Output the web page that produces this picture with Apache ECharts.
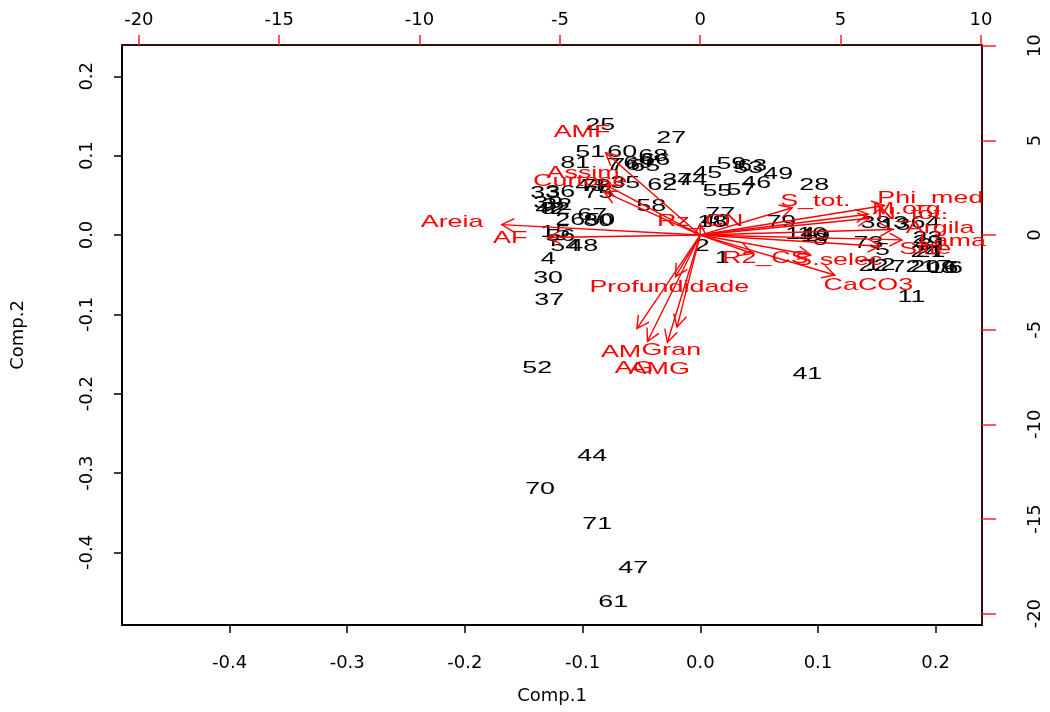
<!DOCTYPE html>
<html>
<head>
<meta charset="utf-8">
<script src="https://cdn.jsdelivr.net/npm/echarts@6/dist/echarts.min.js"></script>
<style>
html,body{margin:0;padding:0;background:#fff;}
#chart{width:1050px;height:712px;}
</style>
</head>
<body>
<div id="chart"></div>
<script>
// ---- Observation scores (Comp.1, Comp.2) ----
var obsLabels = ['1','2','3','4','5','6','7','8','9','10','11','12','13','14','15','16','17','18','19','20',
  '21','22','23','24','25','26','27','28','29','30','31','32','33','34','35','36','37','38','39','40',
  '41','42','43','44','45','46','47','48','49','50','51','52','53','54','55','56','57','58','59','60',
  '61','62','63','64','65','66','67','68','69','70','71','72','73','74','75','76','77','78','79','80','81','82'];
var obsX = [0.0187,0.0017,0.1701,-0.1293,0.1548,0.2168,-0.0740,0.1020,0.2109,0.0952,
  0.1794,0.1531,0.1658,0.0850,-0.1233,0.2066,0.2007,0.0102,0.0978,0.1913,
  0.1956,0.1471,0.1930,0.1913,-0.0850,-0.1105,-0.0247,0.0969,0.1930,-0.1293,
  0.1973,-0.1216,-0.1318,-0.0196,-0.0638,-0.1190,-0.1284,0.1488,-0.1293,0.0128,
  0.0910,-0.1276,-0.0935,-0.0918,0.0060,0.0476,-0.0570,-0.0995,0.0663,-0.0850,
  -0.0935,-0.1386,0.0408,-0.1148,0.0145,-0.1190,0.0349,-0.0417,0.0264,-0.0663,
  -0.0740,-0.0323,0.0442,0.1913,-0.0468,-0.0383,-0.0918,-0.0400,-0.0527,-0.1361,
  -0.0876,0.1743,0.1429,-0.0068,-0.0867,-0.0638,0.0170,-0.0884,0.0689,-0.0867,-0.1063,-0.1233];
var obsY = [-0.0293,-0.0141,0.0149,-0.0305,-0.0192,-0.0419,0.0880,-0.0066,-0.0419,0.0010,
  -0.0784,-0.0381,0.0124,0.0010,0.0035,-0.0419,-0.0406,0.0161,-0.0015,-0.0406,
  -0.0217,-0.0393,-0.0040,-0.0217,0.1385,0.0187,0.1221,0.0628,-0.0091,-0.0545,
  -0.0129,0.0376,0.0527,0.0691,0.0653,0.0540,-0.0822,0.0149,0.0401,0.0174,
  -0.1755,0.0325,0.0615,-0.2789,0.0779,0.0653,-0.4202,-0.0141,0.0766,0.0187,
  0.1044,-0.1680,0.0842,-0.0141,0.0552,-0.0015,0.0565,0.0363,0.0893,0.1044,
  -0.4632,0.0628,0.0868,0.0149,0.0868,0.0943,0.0250,0.0994,0.0905,-0.3206,
  -0.3647,-0.0406,-0.0103,0.0691,0.0527,0.0880,0.0262,0.0615,0.0161,0.0174,0.0905,0.0325];

// ---- Variable loadings (label positions, secondary axes) ----
var varNames = ['Areia','AF','AMF','Assim','Curtose','Rz_CN','S_tot.','Phi_med','M.org.','N_tot.',
  'Argila','Lama','Silte','CaCO3','S.selec','R2_CS','Profundidade','AM','Gran','AG','AMG'];
var varX = [-8.84,-6.77,-4.21,-4.17,-4.28,0.00,4.10,8.20,7.48,7.56,
  8.55,8.98,8.02,5.99,4.92,2.32,-1.10,-2.82,-1.03,-2.35,-1.46];
var varY = [0.69,-0.16,5.44,3.28,2.85,0.74,1.80,1.95,1.37,1.11,
  0.37,-0.32,-0.74,-2.64,-1.32,-1.22,-2.75,-6.18,-6.08,-7.03,-7.08];

// ---- Tick values ----
var primaryTicks = [-0.4,-0.3,-0.2,-0.1,0.0,0.1,0.2];
var secondaryTicks = [-20,-15,-10,-5,0,5,10];

var SX = 1.58;      // horizontal text stretch seen in the reference
var TXT_FONT = 'Liberation Sans, Arial, sans-serif';
var AX_FONT = 'DejaVu Sans, sans-serif';

var chart = echarts.init(document.getElementById('chart'), null, {renderer:'canvas'});

var fmt1 = function(v){ return (Math.abs(v) < 1e-9 ? 0 : v).toFixed(1); };

var option = {
  backgroundColor:'#ffffff',
  animation:false,
  grid:{left:122, right:68, top:45, bottom:87, containLabel:false},
  xAxis:[
    {type:'value', position:'bottom', min:-0.4914, max:0.2394,
      name:'Comp.1', nameLocation:'middle', nameGap:62,
      nameTextStyle:{fontFamily:AX_FONT, fontSize:18, color:'#000'},
      axisLine:{show:true, onZero:false, lineStyle:{color:'#000', width:2}},
      axisTick:{show:true, customValues:primaryTicks, length:8, lineStyle:{color:'#000', width:1.5}},
      axisLabel:{show:true, customValues:primaryTicks, formatter:fmt1, margin:29,
        fontFamily:AX_FONT, fontSize:18, color:'#000'},
      splitLine:{show:false}},
    {type:'value', position:'top', min:-20.6, max:10.04,
      axisLine:{show:true, onZero:false, lineStyle:{color:'#3f0a0a', width:2}},
      axisTick:{show:true, customValues:secondaryTicks, length:10, lineStyle:{color:'#ff2020', width:1.5}},
      axisLabel:{show:true, customValues:secondaryTicks, margin:16,
        fontFamily:AX_FONT, fontSize:18, color:'#000'},
      splitLine:{show:false}}
  ],
  yAxis:[
    {type:'value', position:'left', min:-0.4914, max:0.2394,
      name:'Comp.2', nameLocation:'middle', nameGap:95, nameRotate:90,
      nameTextStyle:{fontFamily:AX_FONT, fontSize:18, color:'#000'},
      axisLine:{show:true, onZero:false, lineStyle:{color:'#000', width:2}},
      axisTick:{show:true, customValues:primaryTicks, length:8, lineStyle:{color:'#000', width:1.5}},
      axisLabel:{show:true, customValues:primaryTicks, formatter:fmt1, margin:26, rotate:90,
        fontFamily:AX_FONT, fontSize:18, color:'#000'},
      splitLine:{show:false}},
    {type:'value', position:'right', min:-20.6, max:10.04,
      axisLine:{show:true, onZero:false, lineStyle:{color:'#3f0a0a', width:2}},
      axisTick:{show:true, customValues:secondaryTicks, length:14, lineStyle:{color:'#ff2020', width:1.5}},
      axisLabel:{show:true, customValues:secondaryTicks, margin:44, rotate:90,
        fontFamily:AX_FONT, fontSize:18, color:'#000'},
      splitLine:{show:false}}
  ],
  series:[
    {
      type:'custom', name:'obs', xAxisIndex:0, yAxisIndex:0, silent:true,
      data: obsX.map(function(x,i){ return [x, obsY[i]]; }),
      renderItem:function(params, api){
        var p = api.coord([api.value(0), api.value(1)]);
        return {type:'text', x:p[0], y:p[1], scaleX:SX, scaleY:1,
          style:{text:obsLabels[params.dataIndex], fontSize:17, fontFamily:TXT_FONT,
            fill:'#000', align:'center', verticalAlign:'middle'}};
      }
    },
    {
      type:'custom', name:'vars', xAxisIndex:1, yAxisIndex:1, silent:true,
      data: varX.map(function(x,i){ return [x, varY[i]]; }),
      renderItem:function(params, api){
        var lx = api.value(0), ly = api.value(1);
        var o = api.coord([0,0]);
        var t = api.coord([0.8*lx, 0.8*ly]);
        var l = api.coord([lx, ly]);
        var ang = Math.atan2(t[1]-o[1], t[0]-o[0]);
        var L = 14, a = 28*Math.PI/180;
        var h1 = [t[0]-L*Math.cos(ang-a), t[1]-L*Math.sin(ang-a)];
        var h2 = [t[0]-L*Math.cos(ang+a), t[1]-L*Math.sin(ang+a)];
        return {type:'group', children:[
          {type:'line', shape:{x1:o[0], y1:o[1], x2:t[0], y2:t[1]},
            style:{stroke:'#ff0000', lineWidth:1.4}},
          {type:'polyline', shape:{points:[h1, t, h2]},
            style:{stroke:'#ff0000', lineWidth:1.4, fill:null}},
          {type:'text', x:l[0], y:l[1], scaleX:SX, scaleY:1,
            style:{text:varNames[params.dataIndex], fontSize:17, fontFamily:TXT_FONT,
              fill:'#ff0000', align:'center', verticalAlign:'middle'}}
        ]};
      }
    }
  ]
};
chart.setOption(option);
</script>
</body>
</html>
